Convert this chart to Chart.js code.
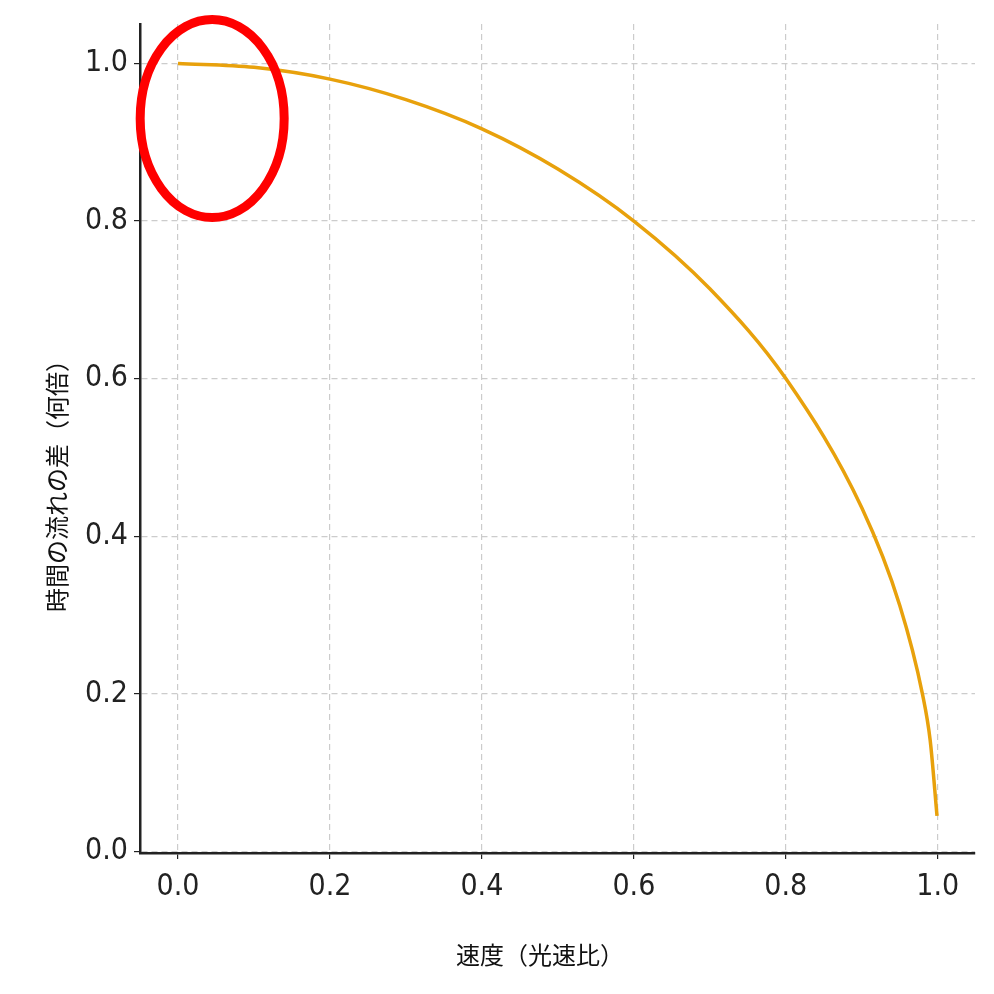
<!DOCTYPE html>
<html>
<head>
<meta charset="utf-8">
<script src="https://cdn.jsdelivr.net/npm/chart.js@4/dist/chart.umd.min.js"></script>
<style>
	html, body { margin: 0; padding: 0; background: #fff; }
	#wrap { width: 994px; height: 994px; }
</style>
</head>
<body>
<div id="wrap"><canvas id="timeChart"></canvas></div>
<script>
// speed as fraction of light speed, and read-off time factor
const speeds = [0, 0.1, 0.2, 0.3, 0.4, 0.5, 0.6, 0.7, 0.8, 0.9, 0.95, 0.98, 0.99, 0.999];
const timeFactor = [1.0, 0.995, 0.98, 0.954, 0.917, 0.866, 0.8, 0.714, 0.6, 0.436, 0.312, 0.199, 0.141, 0.045];
const xTicks = [0, 0.2, 0.4, 0.6, 0.8, 1.0];
const yTicks = [0, 0.2, 0.4, 0.6, 0.8, 1.0];
const xTitle = "速度（光速比）";
const yTitle = "時間の流れの差（何倍）";

const tickFont = { family: "DejaVu Sans Condensed, DejaVu Sans", size: 30 };

// red hand-drawn circle and axis titles
const overlayPlugin = {
	id: "overlay",
	afterDraw(chart) {
		let ctx = chart.ctx;
		let x = chart.scales.x.getPixelForValue(0.045);
		let y = chart.scales.y.getPixelForValue(0.93);
		ctx.save();
		ctx.strokeStyle = "#ff0000";
		ctx.lineWidth = 9;
		ctx.beginPath();
		ctx.ellipse(x, y, 72, 99, 0, 0, Math.PI * 2);
		ctx.stroke();

		ctx.fillStyle = "#111";
		ctx.font = "24px 'Noto Sans CJK JP'";
		ctx.textAlign = "center";
		ctx.textBaseline = "middle";
		ctx.fillText(xTitle, 540, 955);
		ctx.translate(57, 480);
		ctx.rotate(-Math.PI / 2);
		ctx.fillText(yTitle, 0, 0);
		ctx.restore();
	},
};

let varTimeChart = document.getElementById("timeChart").getContext("2d");

var timeChart = new Chart(varTimeChart, {
	type: "line",
	data: {
		datasets: [
			{
				data: speeds.map((v, i) => ({ x: v, y: timeFactor[i] })),
				borderColor: "#e8a10c",
				borderWidth: 3.5,
				pointRadius: 0,
				cubicInterpolationMode: "monotone",
			},
		],
	},
	options: {
		responsive: true,
		maintainAspectRatio: false,
		animation: false,
		layout: { padding: { top: 15, right: 19, left: 0, bottom: 0 } },
		plugins: { legend: { display: false }, tooltip: { enabled: false } },
		scales: {
			x: {
				type: "linear",
				min: -0.05,
				max: 1.049,
				afterBuildTicks: (s) => { s.ticks = xTicks.map((v) => ({ value: v })); },
				afterFit: (s) => { s.height = 141; },
				ticks: {
					color: "#222",
					font: tickFont,
					padding: 10,
					callback: (v) => v.toFixed(1),
				},
				grid: { color: "#cccccc", lineWidth: 1.2, tickLength: 6, tickColor: "#222" },
				border: { color: "#222", width: 2.5, dash: [6, 4] },
			},
			y: {
				type: "linear",
				min: -0.002,
				max: 1.05,
				afterBuildTicks: (s) => { s.ticks = yTicks.map((v) => ({ value: v })); },
				afterFit: (s) => { s.width = 140; },
				ticks: {
					color: "#222",
					font: tickFont,
					padding: 6,
					callback: (v) => v.toFixed(1),
				},
				grid: { color: "#cccccc", lineWidth: 1.2, tickLength: 6, tickColor: "#222" },
				border: { color: "#222", width: 2.5, dash: [6, 4] },
			},
		},
	},
	plugins: [overlayPlugin],
});
</script>
</body>
</html>
